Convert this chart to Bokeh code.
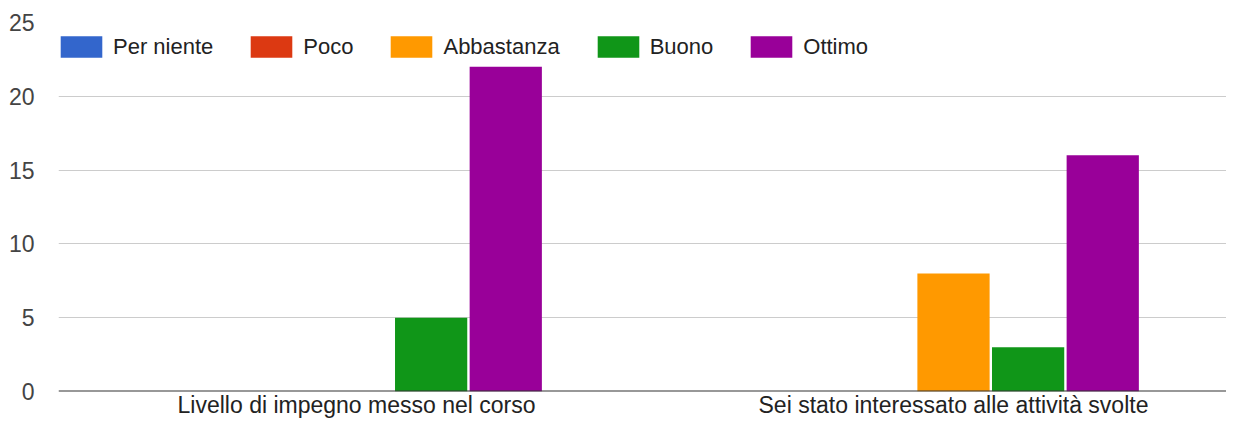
from bokeh.plotting import figure
from bokeh.models import Range1d, Legend, LegendItem, FixedTicker, ColumnDataSource, Span
from bokeh.transform import dodge
from bokeh.embed import file_html
from bokeh.resources import INLINE

categories = ["Livello di impegno messo nel corso", "Sei stato interessato alle attività svolte"]
series = ["Per niente", "Poco", "Abbastanza", "Buono", "Ottimo"]
per_niente = [0, 0]
poco = [0, 0]
abbastanza = [0, 8]
buono = [5, 3]
ottimo = [22, 16]
colors = ["#3366cc", "#dc3912", "#ff9900", "#109618", "#990099"]
y_ticks = [0, 5, 10, 15, 20, 25]

cat_pos = [i + 0.5 for i in range(len(categories))]
data = {"x": cat_pos, "Per niente": per_niente, "Poco": poco,
        "Abbastanza": abbastanza, "Buono": buono, "Ottimo": ottimo}
source = ColumnDataSource(data)

FONT = "Liberation Sans"

p = figure(x_range=Range1d(0.0008, 1.9573), y_range=Range1d(0, 25),
           width=1226, height=420, output_backend="svg", toolbar_location=None,
           min_border_left=58, min_border_right=0, min_border_top=22, min_border_bottom=0)
p.outline_line_color = None
p.background_fill_color = "white"

offsets = [-0.25, -0.125, 0.0, 0.125, 0.25]
items = []
for name, col, off in zip(series, colors, offsets):
    r = p.vbar(x=dodge("x", off, range=p.x_range), top=name, width=0.121,
               source=source, fill_color=col, line_color=None)
    items.append(LegendItem(label=name, renderers=[r]))

legend = Legend(items=items, orientation="horizontal", location=(-3, 331),
                glyph_width=52, glyph_height=27, label_height=27, label_standoff=6,
                spacing=32, padding=0, margin=0,
                label_text_font=FONT, label_text_font_size="22px", label_text_color="#222222",
                border_line_color=None, background_fill_alpha=0)
p.add_layout(legend, "center")

p.yaxis.ticker = FixedTicker(ticks=y_ticks)
p.yaxis.axis_line_color = None
p.yaxis.major_tick_line_color = None
p.yaxis.minor_tick_line_color = None
p.yaxis.major_label_text_font = FONT
p.yaxis.major_label_text_font_size = "23px"
p.yaxis.major_label_text_color = "#444444"
p.yaxis.major_label_standoff = 18

p.xaxis.ticker = FixedTicker(ticks=cat_pos)
p.xaxis.major_label_overrides = {pos: lab for pos, lab in zip(cat_pos, categories)}
p.xaxis.axis_line_color = None
p.xaxis.major_tick_line_color = None
p.xaxis.minor_tick_line_color = None
p.xaxis.major_tick_out = 0
p.xaxis.major_tick_in = 0
p.xaxis.minor_tick_out = 0
p.xaxis.major_label_text_font = FONT
p.xaxis.major_label_text_font_size = "23px"
p.xaxis.major_label_text_color = "#222222"
p.xaxis.major_label_standoff = 0

p.xgrid.grid_line_color = None
p.ygrid.grid_line_color = "#cccccc"
p.ygrid.grid_line_width = 1

baseline = Span(location=0, dimension="width", line_color="#333333", line_width=2)
p.add_layout(baseline)

open("out.html", "w").write(file_html(p, INLINE))
